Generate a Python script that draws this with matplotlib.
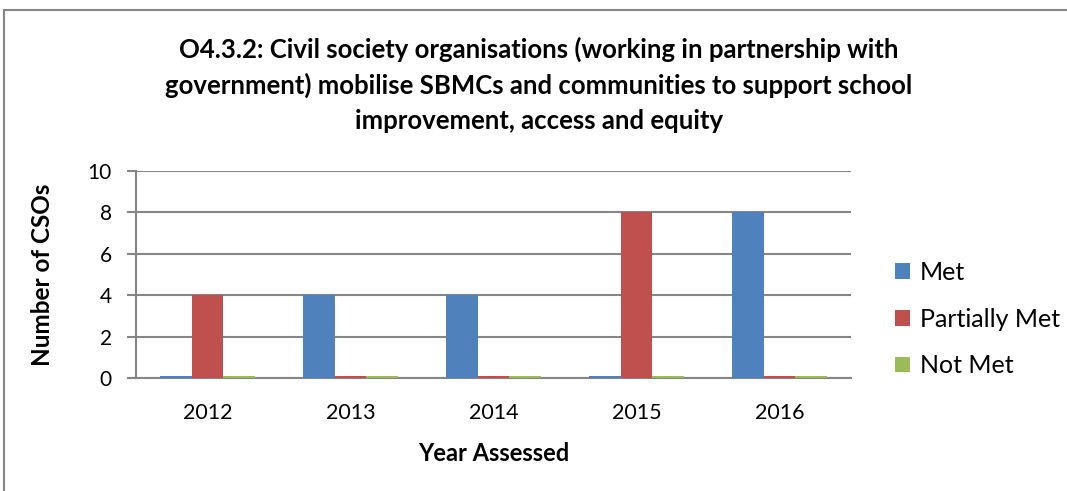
import numpy as np
import matplotlib.pyplot as plt
from matplotlib.patches import Rectangle

years = ["2012", "2013", "2014", "2015", "2016"]
met = [0.1, 4, 4, 0.1, 8]
partially_met = [4, 0.1, 0.1, 8, 0.1]
not_met = [0.1, 0.1, 0.1, 0.1, 0.1]

series = [("Met", met, "#4F81BD"),
          ("Partially Met", partially_met, "#C0504D"),
          ("Not Met", not_met, "#9BBB59")]

plt.rcParams['font.family'] = ['Lato', 'DejaVu Sans']

fig = plt.figure(figsize=(10.67, 4.91), dpi=100)
ax = fig.add_axes([136/1067, 1 - 378/491, 715/1067, 207/491])

x = np.arange(len(years))
w = 0.222
for i, (name, vals, col) in enumerate(series):
    ax.bar(x + (i - 1) * w, vals, w, color=col, label=name, zorder=3)

ax.set_xlim(-0.5, len(years) - 0.5)
ax.set_ylim(0, 10)
ax.set_yticks(np.arange(0, 11, 2))
ax.set_xticks(x)
ax.set_xticklabels(years)
ax.tick_params(axis='y', length=6.5, width=1.5, color='#868686', labelsize=15, pad=11)
ax.tick_params(axis='x', length=0, labelsize=15.5, pad=18)
ax.grid(axis='y', color='#868686', linewidth=1.5, zorder=0)
for s in ['top', 'right']:
    ax.spines[s].set_visible(False)
for s in ['left', 'bottom']:
    ax.spines[s].set_color('#868686')
    ax.spines[s].set_linewidth(1.5)

ax.set_ylabel("Number of CSOs", fontsize=17.5, fontweight='bold', labelpad=24)
ax.set_xlabel("Year Assessed", fontsize=17, fontweight='bold', labelpad=14)

fig.text(0.505, 0.925,
         "O4.3.2: Civil society organisations (working in partnership with\n"
         "government) mobilise SBMCs and communities to support school\n"
         "improvement, access and equity",
         ha='center', va='top', fontsize=18.5, fontweight='bold', linespacing=1.52)

ax.legend(loc='center left', bbox_to_anchor=(1.03, 0.285), frameon=False,
          fontsize=18, handlelength=0.6, handleheight=0.6, labelspacing=0.95,
          handletextpad=0.4)

fig.patches.append(Rectangle((4/1067, -0.1), 1.2, 1.1 - 10/491, transform=fig.transFigure,
                             fill=False, edgecolor='#868686', linewidth=1.5))

fig.savefig("out.png", dpi=100)
